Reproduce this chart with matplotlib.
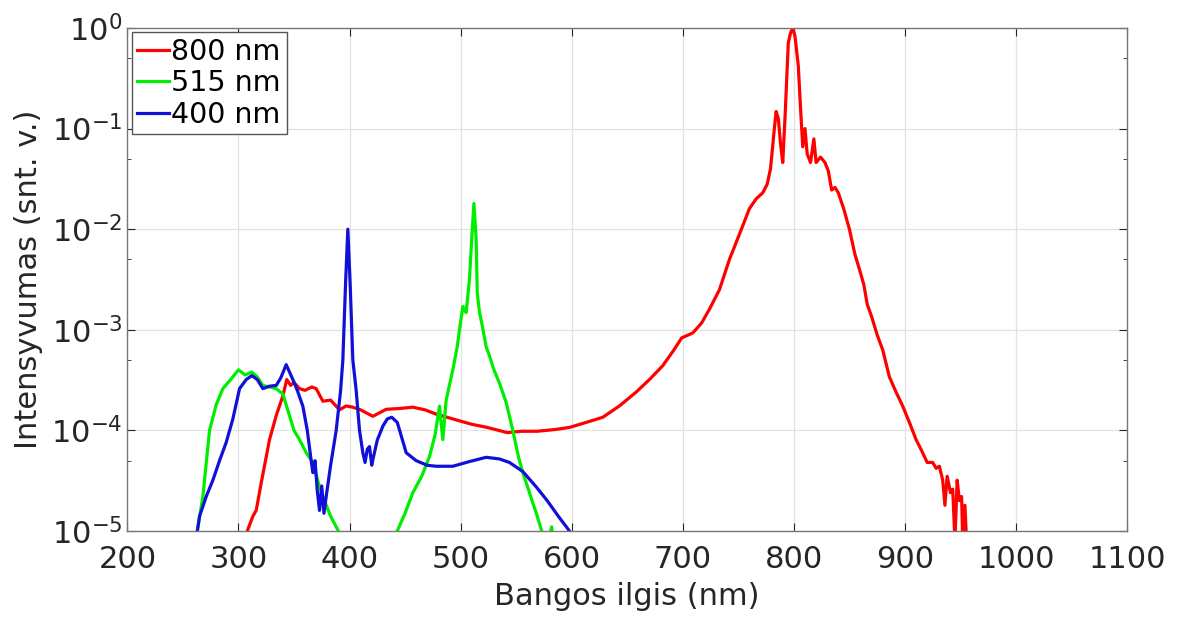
import matplotlib
matplotlib.use("Agg")
from matplotlib import pyplot as plt
from matplotlib.ticker import LogLocator

# 800 nm spectrum
red_x = [305, 308, 313, 316, 320, 328, 334, 340, 343.5, 347, 350, 355, 360, 366, 370,
         376, 383, 391, 397, 403, 410, 421, 433, 445, 457, 468, 478, 493, 510, 524,
         542, 555, 569, 585, 598, 613, 628, 643, 658, 670, 682, 692, 699, 709, 717,
         724, 733, 742, 751, 760, 766, 772, 776, 779, 782, 784, 786, 788, 790, 792,
         795, 797, 799, 801, 804, 806, 808, 810, 812, 815, 818, 820, 824, 828, 831,
         834, 837, 840, 845, 850, 855, 859, 863, 866, 870, 875, 880, 886, 892, 898,
         904, 910, 915, 920, 925, 928, 931, 934, 936, 938, 941, 943, 945, 947, 949,
         951, 952, 954, 956]
red_y = [6e-6, 1.0e-5, 1.4e-5, 1.6e-5, 2.8e-5, 8.1e-5, 1.4e-4, 2.2e-4, 3.2e-4, 2.8e-4,
         3.0e-4, 2.6e-4, 2.5e-4, 2.7e-4, 2.6e-4, 1.95e-4, 2.0e-4, 1.6e-4, 1.75e-4, 1.7e-4,
         1.6e-4, 1.38e-4, 1.62e-4, 1.65e-4, 1.7e-4, 1.6e-4, 1.45e-4, 1.3e-4, 1.15e-4, 1.07e-4,
         9.5e-5, 9.8e-5, 9.8e-5, 1.02e-4, 1.07e-4, 1.2e-4, 1.35e-4, 1.75e-4, 2.4e-4, 3.2e-4,
         4.4e-4, 6.3e-4, 8.3e-4, 9.3e-4, 1.17e-3, 1.6e-3, 2.5e-3, 5.0e-3, 8.9e-3, 1.6e-2,
         2.0e-2, 2.3e-2, 2.8e-2, 4.0e-2, 8.9e-2, 0.148, 0.126, 0.071, 0.046, 0.126,
         0.71, 0.89, 1.0, 0.83, 0.42, 0.16, 0.066, 0.10, 0.056, 0.046,
         0.079, 0.046, 0.052, 0.046, 0.038, 0.0245, 0.026, 0.023, 0.0158, 0.010,
         0.0056, 0.0040, 0.0028, 0.0018, 1.35e-3, 8.9e-4, 6.3e-4, 3.4e-4, 2.4e-4, 1.74e-4,
         1.2e-4, 8.1e-5, 6.3e-5, 4.8e-5, 4.8e-5, 4.2e-5, 4.4e-5, 3.2e-5, 1.8e-5, 3.5e-5,
         2.4e-5, 2.6e-5, 8e-6, 3.2e-5, 2.0e-5, 2.2e-5, 8e-6, 1.8e-5, 6e-6]

# 515 nm spectrum
green_x = [258, 263, 268, 274, 280, 286, 293, 300, 306, 312, 317, 322, 328, 334, 340,
           346, 350, 355, 361, 367, 372, 376, 383, 390, 393, 440, 443, 450, 457, 465,
           472, 477, 481, 484, 487, 493, 497, 499, 502, 505, 508, 510, 512, 514, 515,
           517, 519, 523, 526, 530, 535, 541, 547, 552, 556, 561, 565, 569, 573, 576,
           580, 582, 584]
green_y = [6e-6, 1.0e-5, 2.2e-5, 1.0e-4, 1.8e-4, 2.6e-4, 3.2e-4, 4.0e-4, 3.55e-4, 3.8e-4,
           3.4e-4, 2.8e-4, 2.7e-4, 2.6e-4, 2.3e-4, 1.4e-4, 1.0e-4, 8.1e-5, 6.0e-5, 4.8e-5,
           3.0e-5, 2.2e-5, 1.4e-5, 1.0e-5, 7e-6, 7e-6, 1.0e-5, 1.5e-5, 2.4e-5, 3.5e-5,
           5.5e-5, 9.0e-5, 1.74e-4, 8.1e-5, 2.0e-4, 4.0e-4, 6.8e-4, 1.0e-3, 1.7e-3, 1.48e-3,
           3.2e-3, 8e-3, 1.8e-2, 8e-3, 2.3e-3, 1.5e-3, 1.17e-3, 6.8e-4, 5.5e-4, 4.0e-4,
           2.95e-4, 1.9e-4, 1.0e-4, 5.5e-5, 3.8e-5, 2.6e-5, 1.9e-5, 1.4e-5, 1.0e-5, 7e-6,
           9e-6, 1.1e-5, 7e-6]

# 400 nm spectrum
blue_x = [260, 265, 271, 277, 283, 289, 295, 301, 307, 312, 317, 322, 328, 334, 338,
          343, 346, 349, 353, 358, 362, 365, 367, 369, 371, 373, 375, 377, 379, 383,
          388, 392, 394, 396.5, 398.5, 400.5, 403, 406, 409, 412, 414, 416, 418, 420, 421,
          425, 430, 434, 438, 443, 447, 451, 460, 470, 478, 493, 508, 523, 535, 544,
          556, 568, 578, 588, 598, 602]
blue_y = [6e-6, 1.4e-5, 2.2e-5, 3.2e-5, 5.0e-5, 7.6e-5, 1.3e-4, 2.6e-4, 3.2e-4, 3.5e-4,
          3.2e-4, 2.6e-4, 2.75e-4, 2.8e-4, 3.3e-4, 4.5e-4, 3.8e-4, 3.2e-4, 2.5e-4, 1.74e-4,
          1.0e-4, 5.5e-5, 3.8e-5, 5e-5, 2.5e-5, 1.6e-5, 2.8e-5, 1.5e-5, 2.2e-5, 4.5e-5,
          1.0e-4, 2.5e-4, 5e-4, 3e-3, 1e-2, 3e-3, 5e-4, 2.5e-4, 1.0e-4, 6e-5,
          4.8e-5, 6.5e-5, 6.9e-5, 4.5e-5, 5.1e-5, 8e-5, 1.1e-4, 1.3e-4, 1.35e-4, 1.2e-4,
          8.5e-5, 6.0e-5, 5.0e-5, 4.5e-5, 4.4e-5, 4.4e-5, 4.9e-5, 5.4e-5, 5.2e-5, 4.8e-5,
          3.9e-5, 2.75e-5, 2.0e-5, 1.4e-5, 1.0e-5, 7e-6]

x_ticks = [200, 300, 400, 500, 600, 700, 800, 900, 1000, 1100]

plt.rcParams['font.family'] = ['DejaVu Sans']
fig = plt.figure(figsize=(11.79, 6.23), dpi=100)
ax = fig.add_axes([0.108, 0.1477, 0.848, 0.8074])

ax.plot(red_x, red_y, color='#ff0000', lw=2.3, label='800 nm')
ax.plot(green_x, green_y, color='#00ee00', lw=2.3, label='515 nm')
ax.plot(blue_x, blue_y, color='#1010d8', lw=2.3, label='400 nm')

ax.set_yscale('log')
ax.set_xlim(200, 1100)
ax.set_ylim(1e-5, 1)
ax.set_xticks(x_ticks)
ax.yaxis.set_minor_locator(LogLocator(base=10, subs=[5]))
ax.grid(True, which='major', color='#e2e2e2', lw=0.9)
ax.set_axisbelow(True)

ax.tick_params(which='both', direction='in', top=True, right=True,
               colors='#262626', labelsize=22)
ax.tick_params(which='major', length=6)
ax.tick_params(which='minor', length=3)
ax.tick_params(axis='x', pad=10)
for sp in ax.spines.values():
    sp.set_color('#777777')
    sp.set_linewidth(1.0)

ax.set_xlabel('Bangos ilgis (nm)', fontsize=22, color='#262626', labelpad=6)
ax.set_ylabel('Intensyvumas (snt. v.)', fontsize=22, color='#262626', labelpad=6)

leg = ax.legend(loc='upper left', fontsize=20.5, handlelength=1.1, handletextpad=0.1,
                borderaxespad=0.15, borderpad=0.2, labelspacing=0.12, fancybox=False,
                framealpha=1)
leg.get_frame().set_edgecolor('#555555')
leg.get_frame().set_linewidth(1.0)

fig.savefig('out.png', dpi=100)
